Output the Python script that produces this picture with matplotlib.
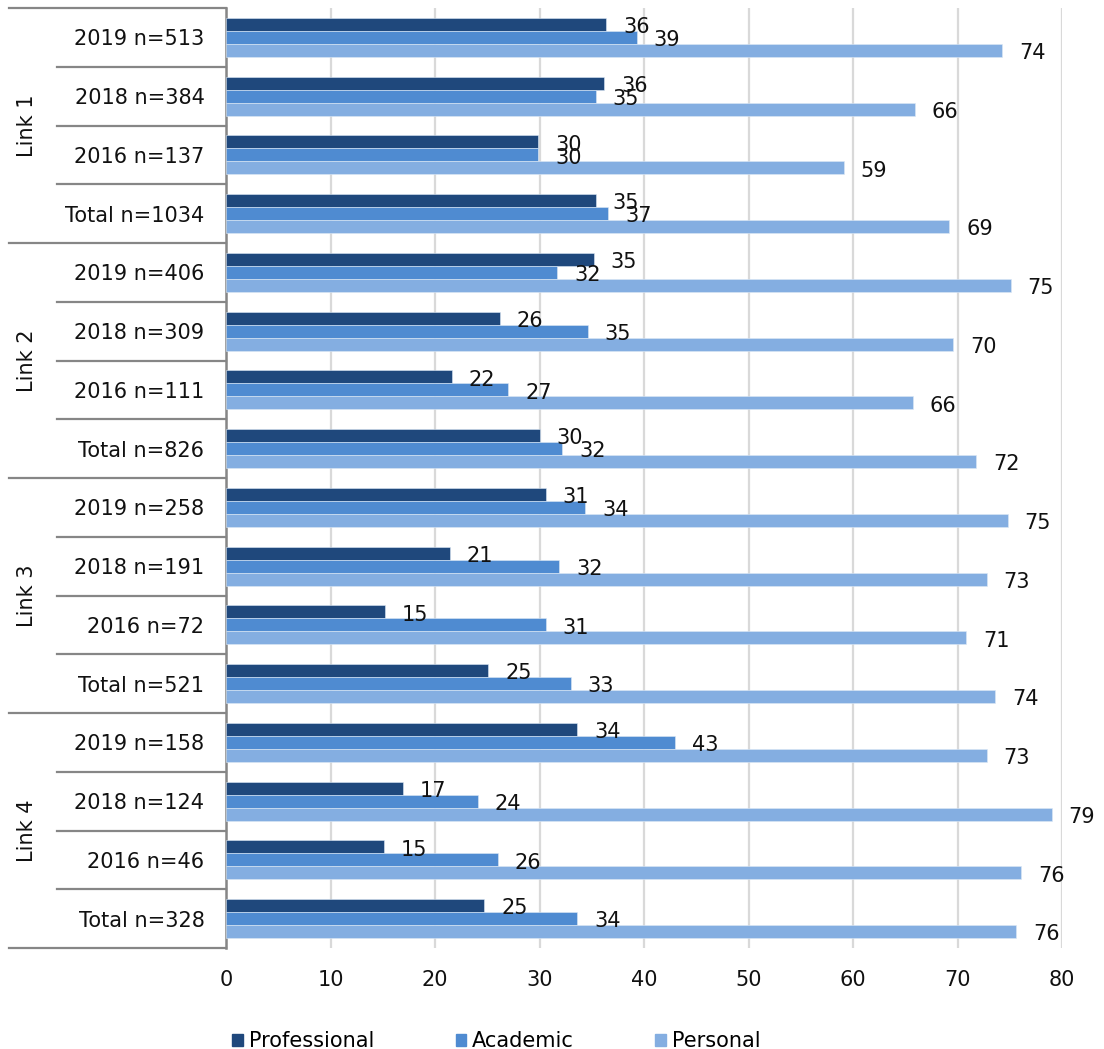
import matplotlib.pyplot as plt
import numpy as np
from matplotlib.patches import Patch
from matplotlib.transforms import blended_transform_factory

# ── Data ──────────────────────────────────────────────────────────────────────
links = ["Link 1", "Link 2", "Link 3", "Link 4"]
rows = [
    "2019 n=513", "2018 n=384", "2016 n=137", "Total n=1034",
    "2019 n=406", "2018 n=309", "2016 n=111", "Total n=826",
    "2019 n=258", "2018 n=191", "2016 n=72", "Total n=521",
    "2019 n=158", "2018 n=124", "2016 n=46", "Total n=328",
]
professional = [36.4, 36.2, 29.9, 35.4, 35.2, 26.2, 21.6, 30.0,
                30.6, 21.4, 15.2, 25.1, 33.6, 16.9, 15.1, 24.7]
academic = [39.3, 35.4, 29.9, 36.6, 31.7, 34.6, 27.0, 32.2,
            34.4, 31.9, 30.6, 33.0, 43.0, 24.1, 26.0, 33.6]
personal = [74.3, 65.9, 59.1, 69.2, 75.1, 69.6, 65.7, 71.8,
            74.8, 72.8, 70.8, 73.6, 72.8, 79.0, 76.1, 75.6]

series = [("Professional", professional, "#1f487c"),
          ("Academic", academic, "#4f8bd1"),
          ("Personal", personal, "#84aee1")]

plt.rcParams["font.family"] = "DejaVu Sans"
FS = 15

W, H = 1104, 1049
fig = plt.figure(figsize=(W / 100, H / 100), dpi=100)
x0, x1, y0, y1 = 226, 1062, 8, 948
ax = fig.add_axes([x0 / W, 1 - y1 / H, (x1 - x0) / W, (y1 - y0) / H])

# ── Bars ──────────────────────────────────────────────────────────────────────
y = np.arange(len(rows))
bh = 0.221
for i, (name, vals, col) in enumerate(series):
    pos = y + (i - 1) * bh
    ax.barh(pos, vals, height=bh, color=col, label=name, zorder=3,
            edgecolor="#dce8f5", linewidth=0.4)
    for p, v in zip(pos, vals):
        ax.annotate(f"{v:.0f}", (v, p), xytext=(12.2, -2), textcoords="offset points",
                    ha="left", va="center", fontsize=FS, color="#111111", zorder=4)

ax.set_ylim(len(rows) - 0.5, -0.5)
ax.set_xlim(0, 80)
ax.set_xticks(np.arange(0, 81, 10))
ax.grid(axis="x", color="#d9d9d9", lw=1.6, zorder=0)
ax.set_axisbelow(True)
for s in ["top", "right", "bottom"]:
    ax.spines[s].set_visible(False)
ax.spines["left"].set_color("#868686")
ax.spines["left"].set_linewidth(1.8)

ax.set_yticks(y)
ax.set_yticklabels(rows, fontsize=FS, color="#111111")
ax.tick_params(axis="y", length=0, pad=15.5)
ax.tick_params(axis="x", length=0, pad=16, labelsize=FS, labelcolor="#111111")

# ── Category frame on the left ────────────────────────────────────────────────
tr = blended_transform_factory(ax.transAxes, ax.transData)
inner = (57 - x0) / (x1 - x0)
outer = (9 - x0) / (x1 - x0)
for k in range(len(rows) + 1):
    start = outer if k % 4 == 0 else inner
    ax.plot([start, 0], [k - 0.5, k - 0.5], transform=tr, color="#868686",
            lw=1.6, clip_on=False, zorder=5)

label_x = (27 - x0) / (x1 - x0)
for g, name in enumerate(links):
    ax.text(label_x, g * 4 + 1.5, name, transform=tr, rotation=90,
            ha="center", va="center", fontsize=FS, color="#111111")

# ── Legend ────────────────────────────────────────────────────────────────────
handles = [Patch(color=c, label=n) for n, _, c in series]
fig.legend(handles=handles, loc="center left", bbox_to_anchor=(226 / W, 1 - 1041 / H),
           ncol=3, frameon=False, fontsize=FS, handlelength=0.5, handleheight=0.5,
           handletextpad=0.3, columnspacing=3.9, borderaxespad=0, borderpad=0.3)

fig.savefig("out.png", dpi=100)
